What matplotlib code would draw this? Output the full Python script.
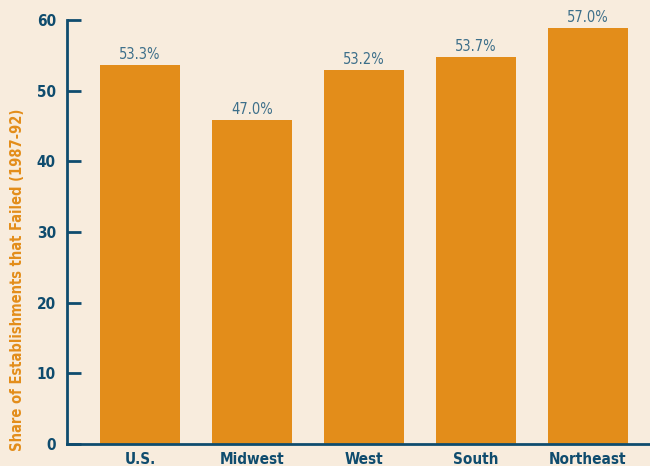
import matplotlib
matplotlib.use("Agg")
import matplotlib.pyplot as plt

regions = ["U.S.", "Midwest", "West", "South", "Northeast"]
bar_heights = [53.6, 45.8, 52.9, 54.7, 58.8]
value_labels = ["53.3%", "47.0%", "53.2%", "53.7%", "57.0%"]
yticks = [0, 10, 20, 30, 40, 50, 60]

navy = "#0f4c6e"
orange = "#e38d1a"
bg = "#f8ecdd"

plt.rcParams["font.family"] = ["DejaVu Sans"]
plt.rcParams["font.stretch"] = "condensed"

fig = plt.figure(figsize=(6.5, 4.66), dpi=100, facecolor=bg)
ax = fig.add_axes([67 / 650, 22 / 466, 1 - 67 / 650, 424 / 466])
ax.set_facecolor(bg)

xs = range(len(regions))
bars = ax.bar(xs, bar_heights, width=0.714, color=orange, zorder=2)
for b, txt in zip(bars, value_labels):
    ax.text(b.get_x() + b.get_width() / 2, b.get_height() + 0.5, txt,
            ha="center", va="bottom", color="#3d6f8a", fontsize=10.5)

ax.set_xlim(-0.652, 4.554)
ax.set_ylim(0, 60)
ax.set_yticks(yticks)
ax.set_xticks(list(xs))
ax.set_xticklabels(regions, fontsize=11, fontweight="bold", color=navy)
ax.tick_params(axis="x", length=0, pad=6)
ax.tick_params(axis="y", direction="in", length=10, width=2, color=navy,
               labelcolor=navy, labelsize=11, pad=8)
for lab in ax.get_yticklabels():
    lab.set_fontweight("bold")

for s in ["top", "right"]:
    ax.spines[s].set_visible(False)
ax.spines["left"].set_color(navy)
ax.spines["left"].set_linewidth(2)
ax.spines["bottom"].set_color(navy)
ax.spines["bottom"].set_linewidth(2)

fig.text(18 / 650, (466 - 280) / 466,
         "Share of Establishments that Failed (1987-92)",
         rotation=90, ha="center", va="center", color=orange,
         fontsize=10.5, fontweight="bold")

fig.savefig("out.png", dpi=100, facecolor=bg)
